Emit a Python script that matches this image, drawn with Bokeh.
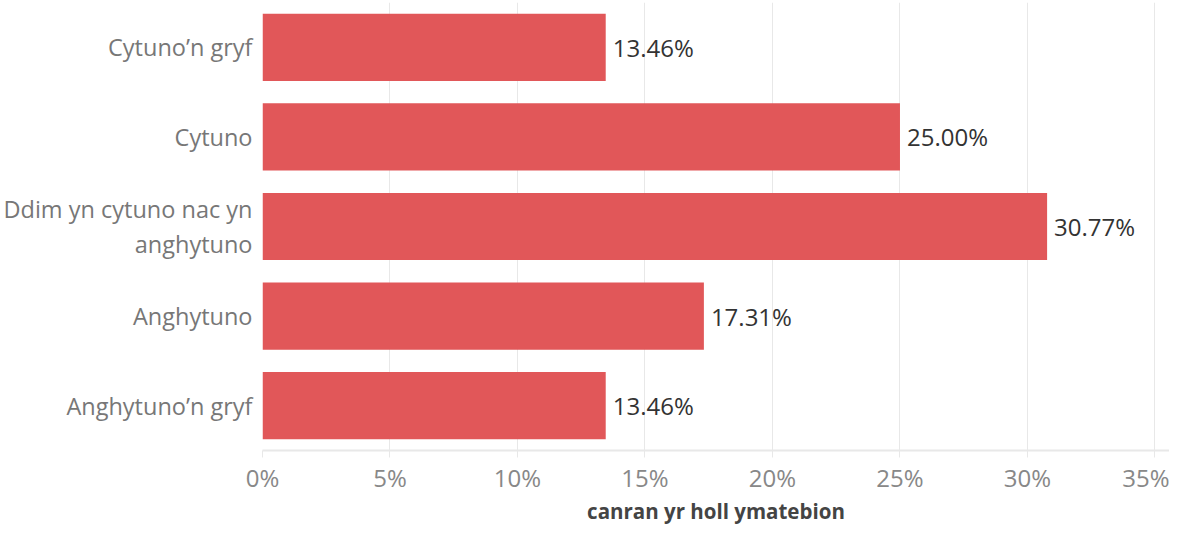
from bokeh.plotting import figure
from bokeh.models import ColumnDataSource, FactorRange, FixedTicker, PrintfTickFormatter, Range1d
from bokeh.core.properties import value
from bokeh.embed import file_html
from bokeh.resources import INLINE

categories = [
    "Cytuno’n gryf",
    "Cytuno",
    "Ddim yn cytuno nac yn\nanghytuno",
    "Anghytuno",
    "Anghytuno’n gryf",
]
percentages = [13.46, 25.00, 30.77, 17.31, 13.46]
value_labels = ["13.46%", "25.00%", "30.77%", "17.31%", "13.46%"]
x_ticks = [0, 5, 10, 15, 20, 25, 30, 35]

FONT = "Open Sans"

src = ColumnDataSource(dict(cat=categories, val=percentages, lab=value_labels))

p = figure(
    width=1169, height=527,
    y_range=FactorRange(*list(reversed(categories)), range_padding=0),
    x_range=Range1d(0, 35.57),
    output_backend="svg", toolbar_location=None,
    min_border_left=262, min_border_right=0, min_border_top=2, min_border_bottom=0,
)
p.outline_line_color = None
p.background_fill_color = "white"
p.border_fill_color = "white"

p.hbar(y="cat", right="val", left=0, height=0.75, source=src,
       fill_color="#e15759", line_color=None)

p.text(x="val", y="cat", text="lab", source=src, x_offset=7,
       text_baseline="middle", text_align="left",
       text_font=value(FONT), text_font_size="24px", text_color="#333333")

# grids
p.ygrid.grid_line_color = None
p.xgrid.ticker = FixedTicker(ticks=x_ticks)
p.xgrid.grid_line_color = "#e8e8e8"
p.xgrid.grid_line_width = 1

# x axis
xa = p.xaxis[0]
xa.ticker = FixedTicker(ticks=x_ticks)
xa.formatter = PrintfTickFormatter(format="%d%%")
xa.axis_line_color = "#e8e8e8"
xa.axis_line_width = 2
xa.major_tick_line_color = "#e8e8e8"
xa.major_tick_out = 7
xa.major_tick_in = 0
xa.minor_tick_line_color = None
xa.major_label_text_font = FONT
xa.major_label_text_font_size = "24px"
xa.major_label_text_color = "#888888"
xa.major_label_standoff = 3
xa.axis_label = "canran yr holl ymatebion"
xa.axis_label_text_font = FONT
xa.axis_label_text_font_size = "20.5px"
xa.axis_label_text_font_style = "bold"
xa.axis_label_text_color = "#444444"
xa.axis_label_standoff = 0

# y axis
ya = p.yaxis[0]
ya.axis_line_color = None
ya.major_tick_line_color = None
ya.minor_tick_line_color = None
ya.major_label_text_font = FONT
ya.major_label_text_font_size = "23.5px"
ya.major_label_text_color = "#777777"
ya.major_label_text_line_height = 1.1
ya.major_label_standoff = 4

open("out.html", "w").write(file_html(p, INLINE))
